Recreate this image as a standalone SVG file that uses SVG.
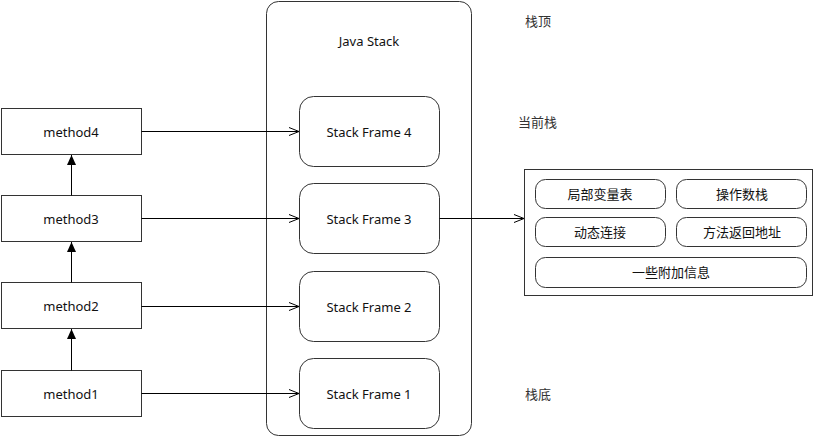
<svg xmlns="http://www.w3.org/2000/svg" width="817" height="437" viewBox="0 0 817 437">
<style>
.box{fill:#fff;stroke:#333;stroke-width:1}
.t{font-family:"Noto Sans","Noto Sans CJK SC",sans-serif;font-size:13px;fill:#111;text-anchor:middle;dominant-baseline:central}
.lbl{font-family:"Noto Sans","Noto Sans CJK SC",sans-serif;font-size:13px;fill:#333;dominant-baseline:central}
.ln{fill:none;stroke:#000;stroke-width:1}
</style>
<defs>
<marker id="open" viewBox="0 0 10 10" refX="10" refY="5" markerWidth="10" markerHeight="10" markerUnits="userSpaceOnUse" orient="auto">
<path d="M0,1 L10,5 L0,9" fill="none" stroke="#000" stroke-width="1"/>
</marker>
<marker id="fill" viewBox="0 0 10 10" refX="10" refY="5" markerWidth="10" markerHeight="10" markerUnits="userSpaceOnUse" orient="auto">
<path d="M0,0.5 L10,5 L0,9.5 Z" fill="#000"/>
</marker>
</defs>
<g id="javastack">
<rect class="box" x="266.5" y="1.5" width="205" height="434" rx="12"/>
<text class="t" x="369" y="41" fill="#333">Java Stack</text>
</g>
<g id="frame4"><rect class="box" x="299.5" y="96.5" width="140" height="70" rx="14"/><text class="t" x="369" y="132">Stack Frame 4</text></g>
<g id="frame3"><rect class="box" x="299.5" y="183.5" width="140" height="70" rx="14"/><text class="t" x="369" y="219">Stack Frame 3</text></g>
<g id="frame2"><rect class="box" x="299.5" y="271.5" width="140" height="70" rx="14"/><text class="t" x="369" y="307">Stack Frame 2</text></g>
<g id="frame1"><rect class="box" x="299.5" y="358.5" width="140" height="70" rx="14"/><text class="t" x="369" y="394">Stack Frame 1</text></g>
<g id="method4"><rect class="box" x="1.5" y="108.5" width="140" height="46"/><text class="t" x="71" y="132">method4</text></g>
<g id="method3"><rect class="box" x="1.5" y="195.5" width="140" height="46"/><text class="t" x="71" y="219">method3</text></g>
<g id="method2"><rect class="box" x="1.5" y="282.5" width="140" height="46"/><text class="t" x="71" y="306">method2</text></g>
<g id="method1"><rect class="box" x="1.5" y="370.5" width="140" height="46"/><text class="t" x="71" y="394">method1</text></g>
<g id="framedetail">
<rect class="box" x="524.5" y="169.5" width="288" height="126"/>
<rect class="box" x="535.5" y="179.5" width="130" height="29" rx="10"/><text class="t" x="600" y="194">局部变量表</text>
<rect class="box" x="676.5" y="179.5" width="130" height="29" rx="10"/><text class="t" x="742" y="194">操作数栈</text>
<rect class="box" x="535.5" y="217.5" width="130" height="29" rx="10"/><text class="t" x="600" y="232">动态连接</text>
<rect class="box" x="676.5" y="217.5" width="130" height="29" rx="10"/><text class="t" x="742" y="232">方法返回地址</text>
<rect class="box" x="535.5" y="257.5" width="271" height="30" rx="10"/><text class="t" x="671" y="272">一些附加信息</text>
</g>
<g id="labels">
<text class="lbl" x="525" y="21">栈顶</text>
<text class="lbl" x="518" y="122">当前栈</text>
<text class="lbl" x="525" y="394">栈底</text>
</g>
<g id="connectors">
<line class="ln" x1="141.5" y1="131.5" x2="299" y2="131.5" marker-end="url(#open)"/>
<line class="ln" x1="141.5" y1="218.5" x2="299" y2="218.5" marker-end="url(#open)"/>
<line class="ln" x1="141.5" y1="306.5" x2="299" y2="306.5" marker-end="url(#open)"/>
<line class="ln" x1="141.5" y1="393.5" x2="299" y2="393.5" marker-end="url(#open)"/>
<line class="ln" x1="439.5" y1="218.5" x2="524" y2="218.5" marker-end="url(#open)"/>
<line class="ln" x1="71.5" y1="195.5" x2="71.5" y2="155" marker-end="url(#fill)"/>
<line class="ln" x1="71.5" y1="282.5" x2="71.5" y2="242" marker-end="url(#fill)"/>
<line class="ln" x1="71.5" y1="370.5" x2="71.5" y2="329" marker-end="url(#fill)"/>
</g>
</svg>
